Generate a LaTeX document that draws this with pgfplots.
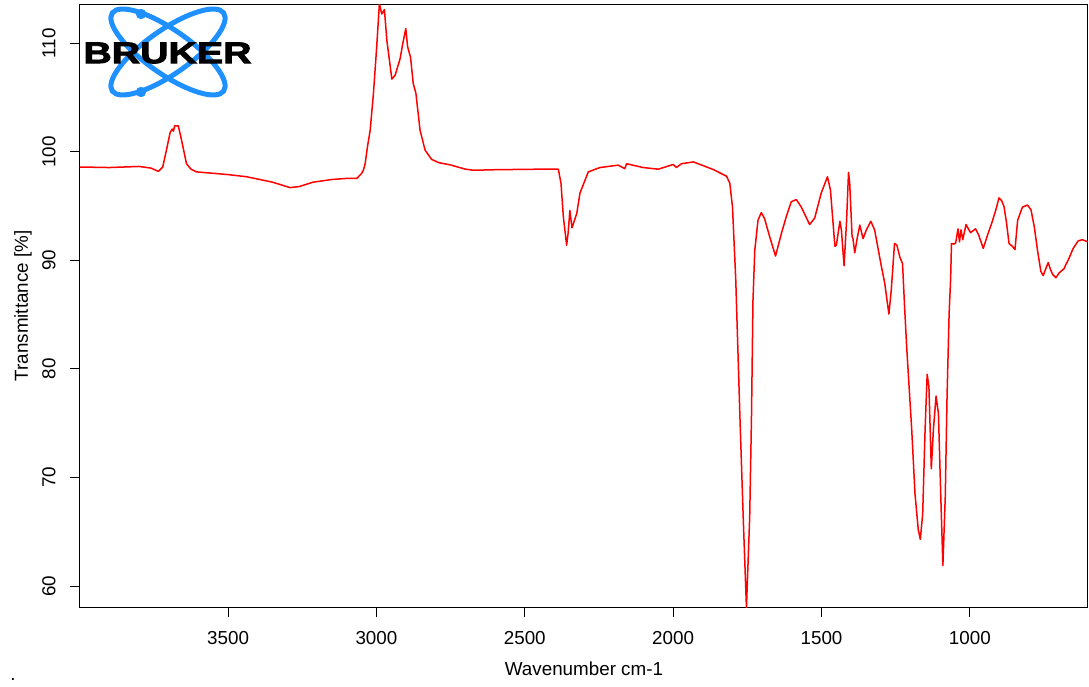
\documentclass[border=0pt]{standalone}
\usepackage{pgfplots}
\pgfplotsset{compat=1.18}
\usepackage{fontspec}
\setmainfont{Liberation Sans}
\newfontfamily\brukerfont{Liberation Sans Bold}[FakeBold=2.5]
\definecolor{brukerblue}{RGB}{30,144,255}
\pgfplotstableread{
wn T
3999 98.6
3900 98.55
3800 98.65
3760 98.5
3735 98.2
3720 98.6
3705 100.5
3695 101.8
3688 102.1
3684 101.9
3680 102.4
3668 102.4
3660 101.5
3650 100.2
3640 98.9
3625 98.4
3606 98.15
3500 97.9
3437 97.7
3350 97.2
3291 96.7
3260 96.8
3214 97.2
3150 97.45
3100 97.55
3066 97.55
3050 98.0
3044 98.3
3038 98.9
3030 100.5
3021 102.0
3010 105.4
2999 109.7
2990 113.65
2982 112.7
2973 113.1
2965 110.3
2948 106.7
2937 107.05
2920 108.6
2911 110.0
2901 111.35
2895 109.7
2885 108.7
2876 106.3
2867 105.4
2853 102.0
2836 100.15
2814 99.3
2790 99.0
2752 98.8
2700 98.4
2673 98.3
2600 98.35
2449 98.4
2387 98.4
2378 97.1
2370 94.0
2359 91.4
2354 92.5
2348 94.6
2341 93.0
2325 94.3
2314 96.2
2286 98.15
2247 98.55
2185 98.77
2163 98.45
2157 98.9
2101 98.55
2050 98.4
2000 98.83
1989 98.55
1972 98.9
1932 99.07
1865 98.37
1820 97.75
1809 97.1
1800 94.9
1789 88.2
1775 75.6
1764 66.4
1753 58.0
1742 66.4
1736 75.6
1731 86.3
1725 90.9
1714 93.7
1703 94.4
1692 93.85
1675 92.2
1655 90.4
1635 92.5
1619 94.0
1602 95.4
1585 95.6
1568 94.9
1540 93.3
1523 93.9
1501 96.2
1480 97.7
1470 96.5
1461 93.4
1455 91.3
1450 91.4
1438 93.6
1433 92.8
1424 89.5
1416 93.4
1409 98.1
1405 97.1
1397 92.2
1394 92.0
1388 90.7
1380 92.0
1371 93.25
1360 92.0
1349 92.8
1334 93.6
1321 92.8
1298 89.4
1287 87.9
1273 85.05
1265 87.25
1254 91.55
1246 91.4
1236 90.3
1227 89.7
1220 85.7
1213 82.0
1196 74.4
1185 68.5
1174 65.2
1167 64.3
1159 66.7
1151 74.4
1144 79.5
1138 78.35
1130 70.8
1123 74.4
1114 77.5
1106 75.9
1098 68.2
1091 61.9
1083 68.2
1077 77.4
1070 85.1
1065 88.2
1062 91.55
1054 91.5
1048 91.6
1040 92.9
1035 91.7
1030 92.8
1024 91.9
1013 93.3
998 92.55
981 92.9
970 92.3
955 91.1
942 92.2
925 93.55
913 94.6
902 95.75
893 95.5
885 94.95
877 93.55
868 91.55
857 91.3
848 91.0
839 93.7
823 94.9
806 95.1
794 94.65
783 93.1
772 90.9
761 89.0
753 88.6
744 89.25
736 89.8
729 89.2
721 88.7
710 88.4
699 88.85
682 89.25
677 89.6
669 90.0
652 91.1
635 91.8
621 91.9
602 91.7
}\spectrum
\begin{document}
\fontsize{9.4pt}{11pt}\selectfont
\begin{tikzpicture}
\begin{axis}[
  scale only axis, width=504pt, height=301.4pt,
  x dir=reverse, xmin=602, xmax=3999, ymin=58.04, ymax=113.57,
  xtick={1000,1500,2000,2500,3000,3500},
  ytick={60,70,80,90,100,110},
  tick align=outside, major tick length=5pt, tick pos=left,
  axis line style={line width=0.5pt, black},
  tick style={line width=0.5pt, black},
  /pgf/number format/assume math mode=true,
  /pgf/number format/1000 sep={},
  xticklabel shift=6.75pt,
  yticklabel shift=7pt,
  xticklabel style={anchor=north, inner sep=0pt, font=\fontsize{9.4pt}{11pt}\selectfont},
  yticklabel style={rotate=90, anchor=south, inner sep=0pt, font=\fontsize{9.4pt}{11pt}\selectfont},
  xlabel={Wavenumber cm-1},
  ylabel={Transmittance [\%]},
  every axis x label/.style={at={([yshift=-34pt]axis description cs:0.5,0)}, anchor=base, inner sep=0pt},
  every axis y label/.style={at={([xshift=-26pt]axis description cs:0,0.5)}, rotate=90, anchor=base, inner sep=0pt},
]
\addplot[red, line width=0.75pt, line join=round] table[x=wn, y=T] {\spectrum};
\end{axis}
\begin{scope}[shift={(-40pt,303.65pt)}, x=0.5pt, y=-0.5pt]
  \draw[brukerblue, line width=2.5pt, rotate around={-35:(168,52)}] (168,52) ellipse [x radius=34pt, y radius=11pt];
  \draw[brukerblue, line width=2.5pt, rotate around={35:(168,52)}] (168,52) ellipse [x radius=34pt, y radius=11pt];
  \fill[brukerblue] (141,14) circle[radius=2.6pt];
  \fill[brukerblue] (141,92) circle[radius=2.6pt];
  \node[font=\fontsize{15pt}{16pt}\brukerfont, xscale=1.31, inner sep=0pt] at (167.5,53) {BRUKER};
  \node[anchor=base, inner sep=0pt] at (13,680) {.};
\end{scope}
\pgfresetboundingbox
\path (-40pt,-39.5pt) rectangle (504.5pt,303.65pt);
\end{tikzpicture}
\end{document}
